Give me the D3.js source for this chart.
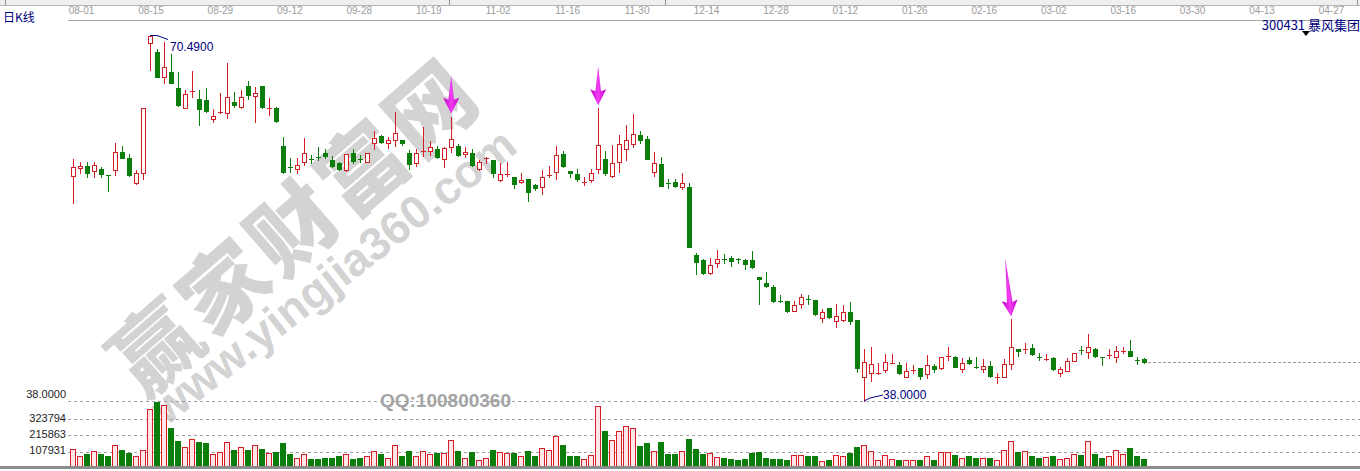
<!DOCTYPE html>
<html><head><meta charset="utf-8">
<script src="https://cdn.jsdelivr.net/npm/d3@7"></script>
<style>body{margin:0;background:#fff;overflow:hidden}svg{display:block}</style>
</head><body><svg id="c" width="1360" height="471"></svg>
<script>
const dateLabels = ["08-01","08-15","08-29","09-12","09-28","10-19","11-02","11-16","11-30","12-14","12-28","01-12","01-26","02-16","03-02","03-16","03-30","04-13","04-27"];
const opens = [57.97,58.68,58.86,58.39,58.62,58.05,58.51,60.13,59.57,57.33,
58.27,69.75,68.98,66.74,67.23,65.76,64.04,65.43,64.78,64.72,
63.06,63.64,63.54,64.57,64.07,65.96,65.05,65.96,63.95,64.01,
60.64,58.80,58.57,59.24,59.47,59.64,60.04,59.39,59.10,58.51,
60.04,59.47,59.24,60.93,61.55,60.88,61.17,61.17,60.04,59.15,
60.10,60.22,60.34,59.46,60.52,60.64,59.93,59.99,58.57,59.46,
59.39,57.62,58.06,57.86,57.41,57.68,57.17,57.02,58.05,58.33,
59.93,58.44,58.15,57.46,57.62,58.57,59.46,58.00,59.22,60.34,
60.79,61.59,61.23,58.30,59.01,57.39,57.44,57.02,56.97,50.96,
50.52,49.34,50.22,50.59,50.67,50.59,50.52,50.52,49.03,48.50,
48.15,46.84,46.88,46.02,46.61,47.04,46.97,45.34,46.23,45.13,
45.19,45.93,45.19,40.10,40.46,40.50,40.71,41.39,41.20,40.16,
40.74,40.90,40.40,41.11,40.90,41.98,41.88,40.87,41.64,41.00,
40.81,41.11,40.15,40.16,41.28,42.59,42.58,42.73,41.94,41.69,
41.84,40.46,40.69,41.58,42.53,42.32,42.61,41.94,42.07,41.88,
42.43,42.44,41.65,41.73];
const highs = [59.46,59.24,59.19,59.22,58.80,58.05,60.88,60.66,59.93,58.51,
64.04,70.49,69.25,69.90,68.78,67.18,65.61,67.27,65.61,65.76,
63.95,65.37,68.03,65.40,65.61,66.41,65.90,65.96,64.92,64.07,
61.41,59.55,59.55,61.32,59.84,60.52,60.34,59.75,59.22,59.90,
60.34,59.84,59.99,62.00,61.61,61.41,63.63,61.17,60.28,60.34,
62.30,61.11,60.64,60.57,63.24,60.81,60.57,60.34,59.39,59.69,
59.39,59.15,59.24,57.86,58.21,57.68,57.26,58.51,58.86,60.64,
60.22,58.44,58.57,57.86,58.57,63.98,60.22,60.73,61.61,62.50,
63.48,62.00,61.52,60.13,59.63,57.68,57.68,58.21,57.32,51.17,
50.58,50.67,51.40,51.05,50.87,50.70,50.58,51.34,49.03,49.48,
48.30,47.42,46.88,46.90,47.47,47.42,46.97,46.14,46.28,46.61,
46.52,46.76,45.19,42.59,42.77,41.40,42.17,42.17,41.49,41.35,
41.20,40.90,42.08,41.29,41.93,42.82,41.99,41.79,41.88,41.88,
41.70,41.58,40.46,41.70,45.25,42.59,43.12,43.06,42.23,42.17,
41.93,41.04,41.79,42.29,42.88,43.95,42.68,41.94,42.59,42.88,
42.82,43.41,41.88,41.79];
const lows = [55.60,58.27,57.86,57.86,57.91,56.67,58.09,59.55,58.00,57.26,
57.68,67.38,66.74,66.26,66.20,64.19,63.98,65.01,62.53,63.68,
62.74,63.59,63.10,64.13,64.01,64.81,62.74,63.98,63.39,62.79,
58.27,58.36,58.27,58.95,59.15,59.39,59.55,58.80,58.51,58.44,
59.10,59.24,59.22,60.37,60.93,60.49,60.64,60.73,58.57,58.86,
59.75,59.84,59.55,58.80,60.13,59.75,59.69,58.86,58.51,59.15,
57.86,57.53,57.97,56.94,57.33,55.78,56.73,56.35,57.91,57.68,
58.80,57.86,57.56,57.17,57.41,58.27,58.06,57.91,58.36,59.39,
60.57,60.93,59.51,57.97,57.11,56.88,56.97,56.79,51.64,49.25,
49.27,49.27,49.87,50.22,49.98,50.22,49.69,49.78,46.61,48.15,
46.81,46.78,45.93,45.99,46.23,46.61,45.63,45.04,45.34,44.60,
45.13,44.83,40.60,38.00,39.80,40.40,40.60,41.35,40.40,40.10,
40.51,39.93,40.07,40.60,40.84,41.64,40.99,40.60,41.28,40.90,
40.60,40.16,39.62,40.16,40.81,42.00,42.29,42.06,41.64,41.64,
40.75,40.22,40.66,41.55,42.15,41.79,41.93,41.20,41.79,41.49,
42.23,42.00,41.28,41.35];
const closes = [58.80,58.86,58.21,58.98,58.12,58.04,60.10,59.60,58.06,58.27,
64.04,70.40,66.79,67.68,66.26,64.28,65.23,65.52,63.89,63.74,
63.30,63.66,64.96,64.25,64.96,65.14,65.37,64.10,64.01,62.83,
58.36,58.79,58.95,59.99,59.46,59.63,59.75,58.89,58.60,59.90,
59.33,59.46,59.99,61.37,61.02,61.17,61.76,60.88,59.01,60.04,
60.19,60.57,59.69,60.43,61.28,59.84,60.10,58.95,59.22,59.55,
58.21,58.15,58.15,57.24,57.62,56.58,56.94,57.91,58.06,59.81,
58.86,58.21,57.68,57.47,58.21,60.70,58.27,59.10,60.79,61.14,
61.68,61.17,59.51,59.10,57.11,57.38,57.09,57.32,51.64,50.37,
49.34,50.05,50.58,50.58,50.43,50.58,50.13,49.92,48.80,48.21,
46.90,46.83,46.02,46.52,47.26,47.03,45.70,45.93,45.43,45.57,
45.90,45.13,40.90,41.49,41.26,40.51,41.42,41.40,40.46,40.69,
40.75,40.22,41.20,40.84,41.88,41.99,41.04,41.35,41.35,40.99,
41.11,40.22,40.16,41.26,42.82,42.44,42.59,42.15,41.93,41.70,
40.81,40.81,41.58,42.23,42.52,42.82,42.02,41.93,42.08,42.44,
42.44,42.02,41.64,41.44];
const volumes = [127000,80000,89000,113000,89000,80000,153000,116000,98000,80000,
120000,394000,443000,420000,269000,182000,140000,194000,169000,162000,
89000,107000,174000,116000,140000,116000,153000,122000,98000,102000,
162000,89000,67000,93000,56000,56000,62000,62000,80000,93000,
56000,67000,76000,113000,89000,67000,153000,80000,109000,80000,
113000,89000,95000,100000,187000,113000,67000,102000,53000,67000,
120000,107000,96000,96000,80000,109000,80000,133000,120000,213000,
153000,80000,76000,60000,85000,416000,249000,187000,249000,280000,
267000,142000,162000,109000,169000,89000,89000,109000,194000,122000,
89000,96000,73000,62000,56000,49000,60000,100000,105000,67000,
60000,60000,49000,82000,82000,76000,76000,42000,49000,82000,
76000,98000,138000,149000,109000,53000,82000,60000,53000,49000,
49000,49000,76000,49000,102000,102000,82000,67000,76000,67000,
67000,67000,53000,120000,182000,105000,109000,76000,67000,71000,
76000,56000,67000,89000,82000,182000,89000,65000,80000,120000,
89000,129000,76000,56000];
const volTicks = [107931, 215863, 323794];
const priceLow = 38.0, priceHigh = 70.49;
const arrowCandles = [54, 75, 134];
const stockCode = "300431", stockName = "暴风集团";

const W = 1360, H = 471;
const N = opens.length;
const RED = "#d41f26", GREEN = "#0b7d0b", NAVY = "#00007f";
const svg = d3.select("#c");

const x = d3.scaleLinear().domain([0, N - 1]).range([72.7, 72.7 + 7 * (N - 1)]);
const y = d3.scaleLinear().domain([priceLow, priceHigh]).range([401, 35]);
const yv = d3.scaleLinear().domain([0, volTicks[0]]).range([467.5, 451.5]);
const xd = d3.scalePoint().domain(dateLabels).range([81, 1331]);

const defs = svg.append("defs");
const g1 = defs.append("linearGradient").attr("id", "mg").attr("x1", "0").attr("x2", "1").attr("y1", "0").attr("y2", "0");
g1.append("stop").attr("offset", "0").attr("stop-color", "#c000c8");
g1.append("stop").attr("offset", "0.5").attr("stop-color", "#f23cf2");
g1.append("stop").attr("offset", "1").attr("stop-color", "#c000c8");

svg.append("rect").attr("width", W).attr("height", H).attr("fill", "#fff");

// watermark
const wm = svg.append("g").attr("fill", "#d3d3d3");
wm.append("text").attr("transform", "translate(291,222) rotate(-41)")
  .attr("text-anchor", "middle").attr("dominant-baseline", "central")
  .style("font", "900 86px 'Noto Sans CJK SC'").style("letter-spacing", "5px").text("赢家财富网");
wm.append("text").attr("transform", "translate(333,276) rotate(-38)")
  .attr("text-anchor", "middle").attr("dominant-baseline", "central")
  .style("font", "bold 46px 'Liberation Sans', Arial, sans-serif").text("www.yingjia360.com");

// top strip
svg.append("rect").attr("x", 0).attr("y", 0).attr("width", W).attr("height", 5).attr("fill", "#efefef");
svg.append("line").attr("x1", 0).attr("x2", W).attr("y1", 5.5).attr("y2", 5.5).attr("stroke", "#b4b4b4");
[5, 449, 665, 1357].forEach(p => svg.append("line").attr("x1", p + 0.5).attr("x2", p + 0.5).attr("y1", 0).attr("y2", 5).attr("stroke", "#909090"));

// date axis
const dAxis = svg.append("g").attr("transform", "translate(0,16)")
  .call(d3.axisTop(xd).tickSize(0).tickPadding(2));
dAxis.select(".domain").remove();
dAxis.selectAll("text").attr("fill", "#9c9c9c")
  .style("font", "10px 'Liberation Sans Narrow', 'Liberation Sans', Arial, sans-serif");
svg.append("line").attr("x1", 68).attr("x2", W).attr("y1", 20.5).attr("y2", 20.5).attr("stroke", "#a8a8a8");

svg.append("text").attr("x", 3).attr("y", 22).attr("fill", NAVY)
  .style("font", "12px 'Noto Sans CJK SC'").text("日K线");
svg.append("text").attr("x", W).attr("y", 30).attr("text-anchor", "end").attr("fill", NAVY)
  .style("font", "13px 'Noto Sans CJK SC'").text(stockCode + " " + stockName);
svg.append("path").attr("d", "M1302,31 L1310,31 L1306,36 Z").attr("fill", "#000");

// gridlines
const gridYs = [y(priceLow)].concat(volTicks.map(v => yv(v)));
svg.append("g").selectAll("line").data(gridYs).join("line")
  .attr("x1", 68).attr("x2", W).attr("y1", d => Math.round(d) + 0.5).attr("y2", d => Math.round(d) + 0.5)
  .attr("stroke", "#a0a0a0").attr("stroke-dasharray", "3,3");

// volume axis labels
const labelFont = "11px 'Liberation Sans', Arial, sans-serif";
const vAxis = svg.append("g").attr("transform", "translate(68,0)")
  .call(d3.axisLeft(yv).tickValues(volTicks).tickSize(0).tickPadding(2).tickFormat(d3.format("d")));
vAxis.select(".domain").remove();
vAxis.selectAll("text").attr("fill", "#222").attr("dy", "0.2em").style("font", labelFont);
svg.append("text").attr("x", 66).attr("y", y(priceLow) - 3).attr("text-anchor", "end").attr("fill", "#222")
  .style("font", labelFont).text(d3.format(".4f")(priceLow));

// QQ text
svg.append("text").attr("x", 380).attr("y", 407).attr("fill", "#a4a4a4")
  .style("font", "bold 19px 'Liberation Sans', Arial, sans-serif").text("QQ:100800360");

// last close dashed line
const lastY = Math.round(y(closes[N - 1])) + 0.5;
svg.append("line").attr("x1", Math.round(x(N - 1)) + 4).attr("x2", W).attr("y1", lastY).attr("y2", lastY)
  .attr("stroke", "#9a9a9a").attr("stroke-dasharray", "3,2");

// candles
const data = d3.range(N).map(i => ({i, o: opens[i], h: highs[i], l: lows[i], c: closes[i], v: volumes[i], up: closes[i] >= opens[i]}));
const cg = svg.append("g");
data.forEach(d => {
  const cx = Math.round(x(d.i));
  const col = d.up ? RED : GREEN;
  cg.append("line").attr("x1", cx + 0.5).attr("x2", cx + 0.5)
    .attr("y1", Math.round(y(d.h))).attr("y2", Math.round(y(d.l)) + 1).attr("stroke", col);
  const top = Math.round(y(Math.max(d.o, d.c)));
  const bot = Math.round(y(Math.min(d.o, d.c)));
  const hgt = bot - top;
  if (hgt < 2) {
    cg.append("rect").attr("x", cx - 2).attr("y", top).attr("width", 5).attr("height", 1).attr("fill", col);
  } else if (d.up) {
    cg.append("rect").attr("x", cx - 1.5).attr("y", top + 0.5).attr("width", 4).attr("height", hgt)
      .attr("fill", "#fff").attr("stroke", col);
  } else {
    cg.append("rect").attr("x", cx - 2).attr("y", top).attr("width", 5).attr("height", hgt + 1).attr("fill", col);
  }
});

// volume bars
const vg = svg.append("g");
const vBase = Math.round(yv(0));
data.forEach(d => {
  const cx = Math.round(x(d.i));
  const top = Math.round(yv(d.v));
  if (d.up) {
    vg.append("rect").attr("x", cx - 2.5).attr("y", top + 0.5).attr("width", 5).attr("height", vBase - top - 1)
      .attr("fill", "#ffe6e8").attr("stroke", RED);
  } else {
    vg.append("rect").attr("x", cx - 3).attr("y", top).attr("width", 6).attr("height", vBase - top).attr("fill", GREEN);
  }
});
svg.append("rect").attr("x", 0).attr("y", 466).attr("width", W).attr("height", 3).attr("fill", "#8c8c8c");

// high / low annotations
const hiIdx = highs.indexOf(d3.max(highs)), loIdx = lows.indexOf(d3.min(lows));
const hx = Math.round(x(hiIdx)), hy = Math.round(y(highs[hiIdx]));
svg.append("path").attr("d", `M${hx},${hy + 0.5} L${hx + 7},${hy + 0.5} L${hx + 18},${hy + 4.5}`)
  .attr("fill", "none").attr("stroke", NAVY);
svg.append("text").attr("x", hx + 20).attr("y", hy + 16).attr("fill", NAVY)
  .style("font", "12px 'Liberation Sans', Arial, sans-serif").text(d3.format(".4f")(highs[hiIdx]));
const lx = Math.round(x(loIdx)), ly = Math.round(y(lows[loIdx]));
svg.append("path").attr("d", `M${lx},${ly} L${lx + 6},${ly - 3} L${lx + 19},${ly - 6}`)
  .attr("fill", "none").attr("stroke", NAVY);
svg.append("text").attr("x", lx + 19).attr("y", ly - 2).attr("fill", NAVY)
  .style("font", "12px 'Liberation Sans', Arial, sans-serif").text(d3.format(".4f")(lows[loIdx]));

// arrows
const arrowSpecs = [{len: 38, tilt: 0}, {len: 39, tilt: 0}, {len: 58, tilt: -6}];
arrowCandles.forEach((ci, k) => {
  const s = arrowSpecs[k];
  const tx = x(ci) + 0.5, ty = y(highs[ci]) - 3;
  const ang = Math.atan2(s.tilt, s.len) * 180 / Math.PI;
  const L = Math.sqrt(s.len * s.len + s.tilt * s.tilt);
  svg.append("path")
    .attr("transform", `translate(${tx},${ty}) rotate(${ang})`)
    .attr("d", `M0,0 L-8,-16 L-2.8,-14 L0,${-L} L2.8,-14 L8,-16 Z`)
    .attr("fill", "url(#mg)");
});
</script></body></html>
